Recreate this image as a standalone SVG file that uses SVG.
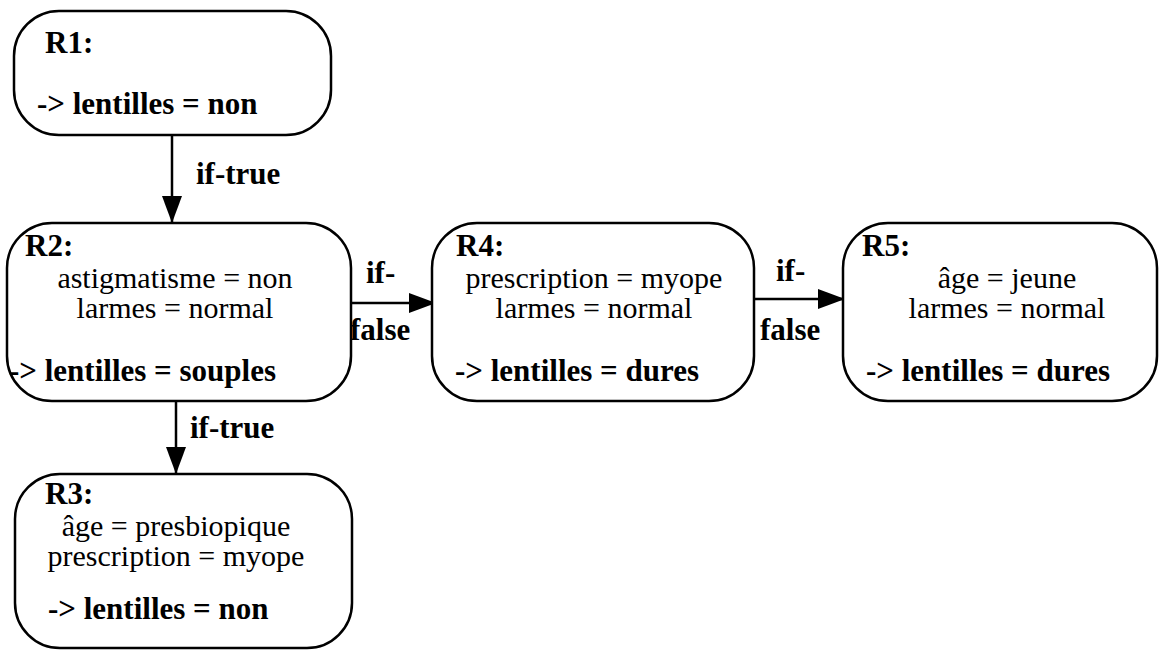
<svg xmlns="http://www.w3.org/2000/svg" width="1159" height="651" viewBox="0 0 1159 651">
  <style>
    .box { fill: #ffffff; stroke: #000000; stroke-width: 2.5; }
    .edge { fill: none; stroke: #000000; stroke-width: 2.5; }
    text { font-family: "Liberation Serif", "Times New Roman", serif; font-size: 30px; fill: #000000; }
    .b { font-weight: bold; font-size: 31px; }
    .c { text-anchor: middle; }
  </style>
  <defs>
    <marker id="arrow" markerUnits="userSpaceOnUse" markerWidth="28" markerHeight="22" refX="27" refY="10" orient="auto">
      <path d="M0,0 L27,10 L0,20 Z" fill="#000000"/>
    </marker>
  </defs>
  <rect width="1159" height="651" fill="#ffffff"/>

  <!-- connectors -->
  <g id="edges">
    <line class="edge" x1="172" y1="135" x2="172" y2="223" marker-end="url(#arrow)"/>
    <text class="b" x="196" y="184">if-true</text>
    <line class="edge" x1="176" y1="401" x2="176" y2="474" marker-end="url(#arrow)"/>
    <text class="b" x="190" y="438">if-true</text>
    <line class="edge" x1="348" y1="303" x2="436" y2="303" marker-end="url(#arrow)"/>
    <text class="b" x="366" y="283">if-</text>
    <text class="b" x="350" y="340">false</text>
    <line class="edge" x1="749" y1="299" x2="845" y2="299" marker-end="url(#arrow)"/>
    <text class="b" x="776" y="281">if-</text>
    <text class="b" x="760" y="340">false</text>
  </g>

  <g id="R1">
    <rect class="box" x="14" y="11" width="317" height="124" rx="45" ry="45"/>
    <text class="b" x="45" y="53">R1:</text>
    <text class="b" x="37" y="114">-&gt; lentilles = non</text>
  </g>

  <g id="R2">
    <rect class="box" x="7" y="223" width="344" height="178" rx="45" ry="45"/>
    <text class="b" x="25" y="256">R2:</text>
    <text class="c" x="175" y="288">astigmatisme = non</text>
    <text class="c" x="175" y="318">larmes = normal</text>
    <text class="b" x="9" y="381">-&gt; lentilles = souples</text>
  </g>

  <g id="R3">
    <rect class="box" x="15" y="474" width="337" height="174" rx="45" ry="45"/>
    <text class="b" x="45" y="504">R3:</text>
    <text class="c" x="176" y="536">âge = presbiopique</text>
    <text class="c" x="176" y="566">prescription = myope</text>
    <text class="b" x="48" y="619">-&gt; lentilles = non</text>
  </g>

  <g id="R4">
    <rect class="box" x="432" y="223" width="322" height="178" rx="45" ry="45"/>
    <text class="b" x="456" y="256">R4:</text>
    <text class="c" x="594" y="288">prescription = myope</text>
    <text class="c" x="594" y="318">larmes = normal</text>
    <text class="b" x="455" y="381">-&gt; lentilles = dures</text>
  </g>

  <g id="R5">
    <rect class="box" x="843" y="223" width="314" height="178" rx="45" ry="45"/>
    <text class="b" x="862" y="256">R5:</text>
    <text class="c" x="1007" y="288">âge = jeune</text>
    <text class="c" x="1007" y="318">larmes = normal</text>
    <text class="b" x="866" y="381">-&gt; lentilles = dures</text>
  </g>
</svg>
